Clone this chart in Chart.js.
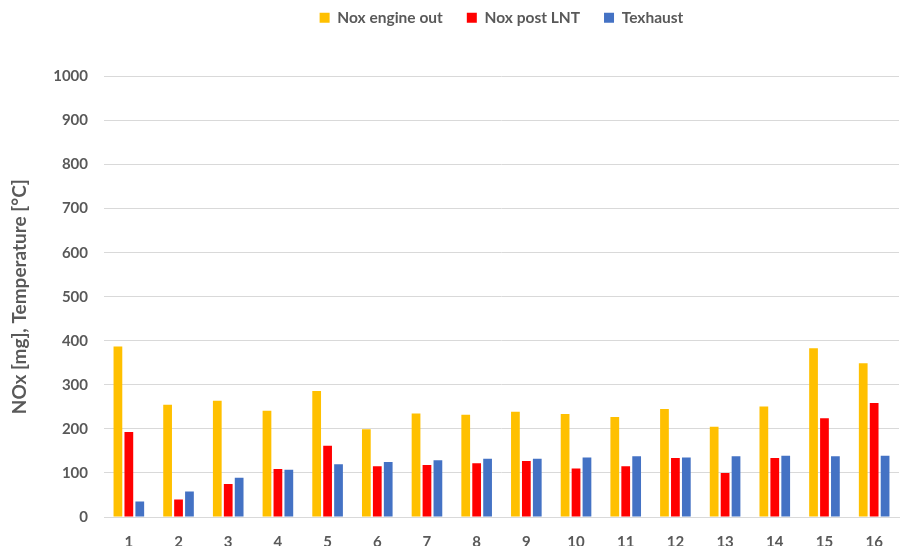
<!DOCTYPE html>
<html>
<head>
<meta charset="utf-8">
<script src="https://cdn.jsdelivr.net/npm/chart.js@4.4.0/dist/chart.umd.min.js"></script>
<style>
  html, body { margin: 0; padding: 0; background: #fff; }
  #wrap { width: 900px; height: 546px; }
</style>
</head>
<body>
<div id="wrap"><canvas id="chart"></canvas></div>
<script>
const cycles = ['1', '2', '3', '4', '5', '6', '7', '8', '9', '10', '11', '12', '13', '14', '15', '16'];
const noxEngineOut = [387, 255, 264, 241, 286, 199, 235, 232, 239, 234, 227, 245, 205, 251, 383, 349];
const noxPostLnt = [193, 40, 75, 109, 162, 115, 118, 122, 127, 110, 115, 134, 100, 134, 224, 259];
const tExhaust = [35, 58, 89, 107, 120, 125, 129, 132, 132, 135, 138, 135, 138, 139, 138, 139];

const gray = '#595959';
const font = 'Lato, "Open Sans", sans-serif';

// push the plot area down below the legend, and center the legend over the plot
const legendGap = {
    id: 'legendGap',
    afterInit(chart) {
        const legend = chart.legend;
        const fit = legend.fit;
        legend.fit = function () {
            fit.call(this);
            this.height += 41;
        };
    },
    afterLayout(chart) {
        const legend = chart.legend;
        legend.left = chart.chartArea.left;
        legend.width = legend.right - legend.left;
    }
};

new Chart(document.getElementById('chart'), {
    type: 'bar',
    data: {
        labels: cycles,
        datasets: [
            { label: 'Nox engine out', data: noxEngineOut, backgroundColor: '#ffc000' },
            { label: 'Nox post LNT', data: noxPostLnt, backgroundColor: '#ff0000' },
            { label: 'Texhaust', data: tExhaust, backgroundColor: '#4472c4' }
        ]
    },
    plugins: [legendGap],
    options: {
        responsive: true,
        maintainAspectRatio: false,
        animation: false,
        categoryPercentage: 0.66,
        barPercentage: 0.8,
        layout: { padding: { left: 4, right: 1, top: -14, bottom: 0 } },
        plugins: {
            tooltip: { enabled: false },
            legend: {
                position: 'top',
                labels: {
                    boxWidth: 10,
                    boxHeight: 10,
                    padding: 24,
                    color: gray,
                    font: { family: font, size: 15.5, weight: 'bold' }
                }
            }
        },
        scales: {
            x: {
                grid: { display: false, drawTicks: false },
                border: { color: '#d9d9d9' },
                ticks: { color: gray, padding: 16, font: { family: font, size: 15, weight: 'bold' } },
                afterFit: function (scale) { scale.height = 29; }
            },
            y: {
                min: 0,
                max: 1000,
                grid: { color: '#d9d9d9', drawTicks: false },
                border: { display: false },
                ticks: {
                    stepSize: 100,
                    color: gray,
                    padding: 16,
                    font: { family: font, size: 15, weight: 'bold' },
                    callback: function (value) { return String(value); }
                },
                title: {
                    display: true,
                    text: 'NOx [mg], Temperature [°C]',
                    color: gray,
                    font: { family: font, size: 19, weight: 'bold' }
                },
                afterFit: function (scale) { scale.width = 100; }
            }
        }
    }
});
</script>
</body>
</html>
